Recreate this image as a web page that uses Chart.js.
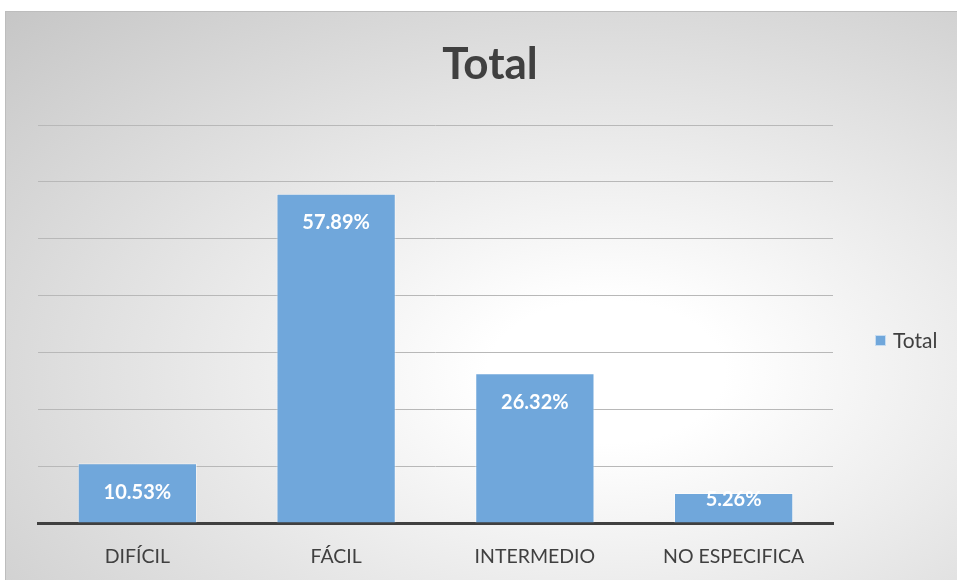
<!DOCTYPE html>
<html>
<head>
<meta charset="utf-8">
<script src="https://cdn.jsdelivr.net/npm/chart.js@4.4.0/dist/chart.umd.min.js"></script>
<style>
  html, body { margin: 0; padding: 0; background: #fff; overflow: hidden; }
  #frame {
    position: absolute; left: 5px; top: 11px; width: 1000px; height: 600px;
    border-top: 1px solid #bdbdbd; border-left: 1px solid #bdbdbd;
    background: radial-gradient(ellipse farthest-corner at 60% 60%, #ffffff 0%, #ffffff 14%, #c6c6c6 100%);
  }
  #wrap { position: absolute; left: 0; top: 0; width: 957px; height: 580px; }
</style>
</head>
<body>
<div id="frame"></div>
<div id="wrap"><canvas id="chart"></canvas></div>
<script>
const categories = ['DIFÍCIL', 'FÁCIL', 'INTERMEDIO', 'NO ESPECIFICA'];
const totals = [10.53, 57.89, 26.32, 5.26];
const seriesName = 'Total';
const yTicks = [0, 10, 20, 30, 40, 50, 60, 70];

const barColor = '#70a7db', textColor = '#404040', FONT = 'Lato, "Open Sans", sans-serif';

// title, legend and value labels drawn by hand to keep Excel-like placement
const decorations = {
    id: 'decorations',
    afterDatasetsDraw(chart) {
        const ctx = chart.ctx, meta = chart.getDatasetMeta(0);
        ctx.save();
        ctx.fillStyle = '#fff';
        ctx.font = 'bold 20px ' + FONT;
        ctx.textAlign = 'center';
        ctx.textBaseline = 'middle';
        meta.data.forEach((bar, i) => {
            const y = Math.min(bar.y + 29, bar.base - 23);
            ctx.fillText(totals[i].toFixed(2) + '%', bar.x, y);
        });
        ctx.restore();
    },
    afterDraw(chart) {
        const ctx = chart.ctx, area = chart.chartArea;
        ctx.save();
        ctx.fillStyle = textColor;
        ctx.font = 'bold 44px ' + FONT;
        ctx.textAlign = 'center';
        ctx.textBaseline = 'middle';
        ctx.fillText(seriesName, 490, 65);

        const lx = area.right + 42, ly = 341;
        ctx.fillStyle = barColor;
        ctx.fillRect(lx, ly - 6, 11, 11);
        ctx.strokeStyle = 'rgba(255,255,255,0.6)';
        ctx.strokeRect(lx + 0.5, ly - 5.5, 10, 10);
        ctx.fillStyle = textColor;
        ctx.font = '21px ' + FONT;
        ctx.textAlign = 'left';
        ctx.fillText(chart.data.datasets[0].label, lx + 18, ly);
        ctx.restore();
    }
};

new Chart(document.getElementById('chart').getContext('2d'), {
    type: 'bar',
    data: {
        labels: categories,
        datasets: [{
            label: seriesName,
            data: totals,
            backgroundColor: barColor,
            borderColor: 'rgba(255,255,255,0.45)',
            borderWidth: 1,
            borderSkipped: 'bottom',
            categoryPercentage: 1,
            barPercentage: 0.6
        }]
    },
    options: {
        responsive: true,
        maintainAspectRatio: false,
        animation: false,
        layout: { padding: { left: 38, right: 124, top: 125, bottom: 12 } },
        plugins: { legend: { display: false }, title: { display: false }, tooltip: { enabled: false } },
        scales: {
            x: {
                grid: { display: false, drawTicks: false },
                border: { display: true, color: '#404040', width: 3 },
                ticks: { color: textColor, font: { family: FONT, size: 19.5 }, padding: 22 },
                afterFit: s => { s.height = 45; }
            },
            y: {
                min: yTicks[0],
                max: yTicks[yTicks.length - 1],
                ticks: { display: false, stepSize: yTicks[1] - yTicks[0] },
                grid: { color: '#b8b8b8', lineWidth: 1, drawTicks: false },
                border: { display: false },
                afterFit: s => { s.width = 0; }
            }
        }
    },
    plugins: [decorations]
});
</script>
</body>
</html>
